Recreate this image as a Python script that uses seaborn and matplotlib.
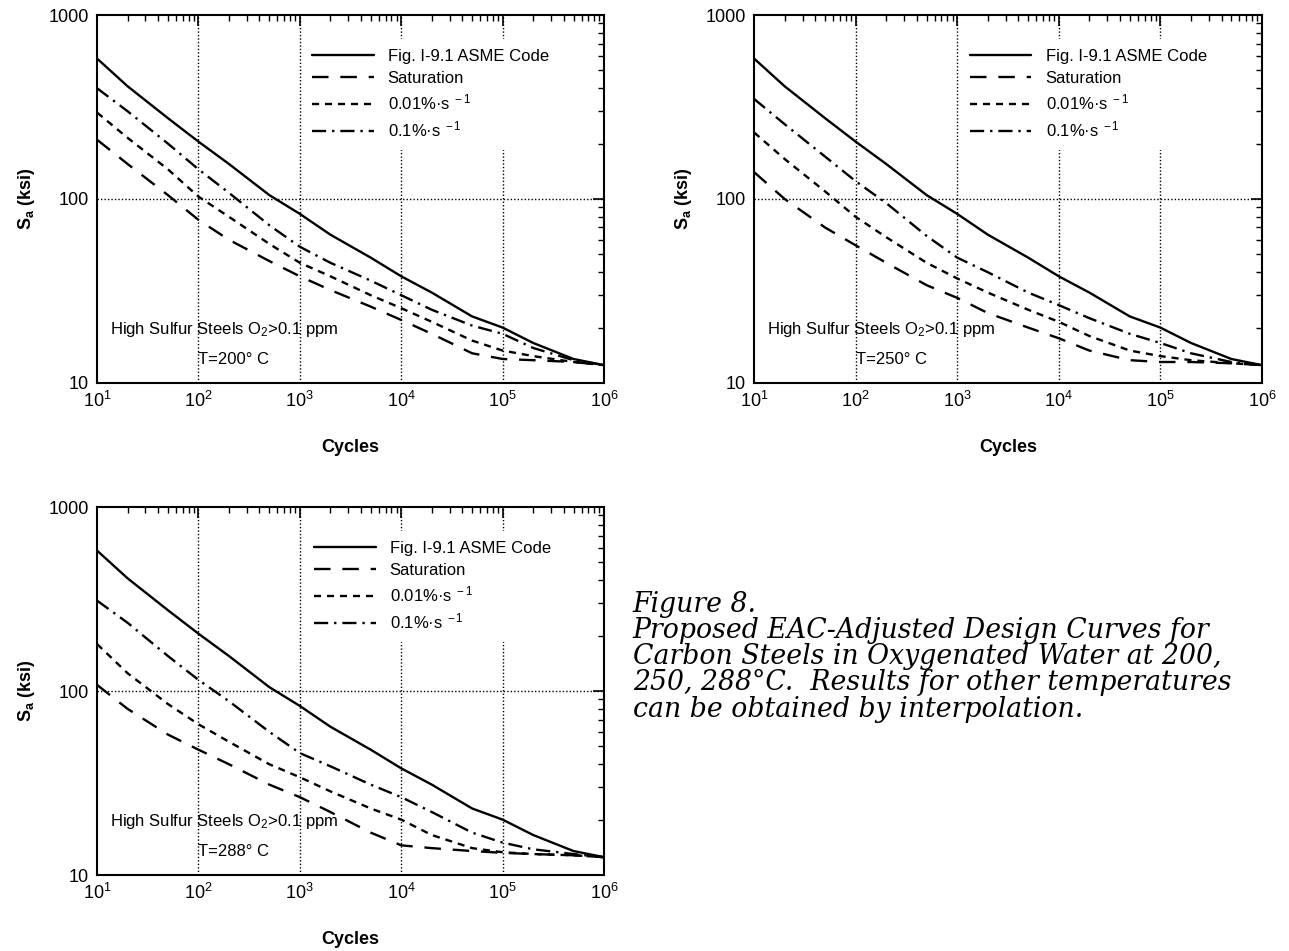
import numpy as np
import pandas as pd
import seaborn as sns
import matplotlib
matplotlib.use("Agg")
import matplotlib.pyplot as plt

# fatigue life points (cycles) and stress amplitude (ksi)
cycles = [10, 20, 50, 100, 200, 500, 1e3, 2e3, 5e3, 1e4, 2e4, 5e4, 1e5, 2e5, 5e5, 1e6]
asme = [580, 410, 275, 205, 155, 105, 83, 64, 48, 38, 31, 23, 20, 16.5, 13.5, 12.5]

fast_200 = [400, 300, 200, 145, 108, 72, 55, 45, 36, 30, 25, 20.5, 18.5, 15.5, 13.3, 12.5]
slow_200 = [295, 215, 145, 103, 80, 57, 45, 38, 30, 25.5, 21.5, 17, 15, 14, 13, 12.5]
sat_200 = [210, 155, 105, 77, 60, 46, 38, 32, 26, 22, 18.5, 14.5, 13.5, 13.3, 13, 12.5]

fast_250 = [350, 255, 170, 125, 95, 63, 48, 40, 31, 26.5, 22.5, 18.5, 16.5, 14.5, 13, 12.5]
slow_250 = [230, 165, 110, 80, 62, 45, 37, 31, 25, 21.5, 18, 15, 14, 13.3, 12.8, 12.5]
sat_250 = [140, 100, 70, 56, 45, 34, 29, 24, 20, 17.5, 15, 13.3, 13, 13, 12.8, 12.5]

fast_288 = [310, 235, 155, 115, 88, 60, 46, 39, 31, 26.5, 22, 17, 15, 13.8, 13, 12.5]
slow_288 = [180, 125, 85, 66, 53, 40, 34, 28.5, 23, 20, 16.5, 14, 13.3, 13, 12.8, 12.5]
sat_288 = [108, 80, 58, 48, 40, 31, 26.5, 22, 17, 14.5, 14, 13.5, 13.2, 13, 12.8, 12.5]

temps = ["200", "250", "288"]
curve_names = ["Fig. I-9.1 ASME Code", "Saturation", "0.01%·s$^{\\ -1}$", "0.1%·s$^{\\ -1}$"]
xtick_labels = ["$10^{1}$", "$10^{2}$", "$10^{3}$", "$10^{4}$", "$10^{5}$", "$10^{6}$"]
ytick_labels = ["10", "100", "1000"]

panel_data = {
    "200": [asme, sat_200, slow_200, fast_200],
    "250": [asme, sat_250, slow_250, fast_250],
    "288": [asme, sat_288, slow_288, fast_288],
}

rows = []
for t in temps:
    for name, vals in zip(curve_names, panel_data[t]):
        for n, s in zip(cycles, vals):
            rows.append({"temp": t, "curve": name, "N": n, "S": s})
df = pd.DataFrame(rows)

sns.set_theme(style="white")
plt.rcParams["font.family"] = ["Liberation Sans", "DejaVu Sans"]
plt.rcParams["mathtext.fontset"] = "custom"
plt.rcParams["mathtext.rm"] = "Liberation Sans"
plt.rcParams["mathtext.it"] = "Liberation Sans:italic"
plt.rcParams["mathtext.bf"] = "Liberation Sans:bold"
plt.rcParams["mathtext.default"] = "regular"
for key in ["text.color", "axes.labelcolor", "xtick.color", "ytick.color", "axes.edgecolor"]:
    plt.rcParams[key] = "black"

styles = {
    curve_names[0]: "-",
    curve_names[1]: (0, (7, 5)),
    curve_names[2]: (0, (3, 2.5)),
    curve_names[3]: (0, (6, 2.5, 1, 2.5)),
}

fig = plt.figure(figsize=(12.89, 9.51), dpi=100)
rects = {
    "200": [0.0753, 0.5973, 0.3933, 0.3869],
    "250": [0.5850, 0.5973, 0.3940, 0.3869],
    "288": [0.0753, 0.0799, 0.3933, 0.3869],
}
legend_x = {"200": 0.404, "250": 0.405, "288": 0.408}

for t in temps:
    ax = fig.add_axes(rects[t])
    sub = df[df["temp"] == t]
    for name in curve_names:
        d = sub[sub["curve"] == name]
        sns.lineplot(data=d, x="N", y="S", ax=ax, color="black", lw=1.7,
                     linestyle=styles[name], label=name, sort=False)
    ax.set(xscale="log", yscale="log")
    ax.set_xlim(10, 1e6)
    ax.set_ylim(10, 1000)
    ax.set_xticks([1e1, 1e2, 1e3, 1e4, 1e5, 1e6])
    ax.set_xticklabels(xtick_labels)
    ax.set_yticks([10, 100, 1000])
    ax.set_yticklabels(ytick_labels)
    for x in [1e2, 1e3, 1e4, 1e5]:
        ax.axvline(x, color="black", lw=1, linestyle=(0, (1, 1.5)), zorder=0.5)
    ax.axhline(100, color="black", lw=1, linestyle=(0, (1, 1.5)), zorder=0.5)
    ax.tick_params(which="both", direction="in", top=True, right=True,
                   colors="black", labelsize=13)
    ax.tick_params(which="major", length=8, width=1.2, pad=6)
    ax.tick_params(which="minor", length=4, width=1)
    for sp in ax.spines.values():
        sp.set_color("black")
        sp.set_linewidth(1.5)
    ax.set_xlabel("Cycles", fontsize=13, fontweight="bold", labelpad=20)
    ax.set_ylabel(r"$\mathbf{S_a}$ (ksi)", fontsize=13, fontweight="bold", labelpad=8)
    leg = ax.legend(loc="upper left", bbox_to_anchor=(legend_x[t], 0.935),
                    frameon=True, fontsize=12, handlelength=3.7,
                    handletextpad=0.85, labelspacing=0.42, borderpad=0.6,
                    borderaxespad=0)
    leg.get_frame().set_facecolor("white")
    leg.get_frame().set_edgecolor("none")
    leg.get_frame().set_alpha(1)
    leg.set_zorder(1)
    for line in ax.get_lines()[:4]:
        line.set_zorder(2)
    ax.text(13.5, 18.5, "High Sulfur Steels O$_2$>0.1 ppm", fontsize=12, zorder=3)
    ax.text(100, 12.7, "T=" + t + "° C", fontsize=12, zorder=3)

caption = [
    "Figure 8.",
    "Proposed EAC-Adjusted Design Curves for",
    "Carbon Steels in Oxygenated Water at 200,",
    "250, 288°C.  Results for other temperatures",
    "can be obtained by interpolation.",
]
for i, line in enumerate(caption):
    fig.text(0.491, 1 - (604 + 26.3 * i) / 951, line, fontsize=19.3,
             family="DejaVu Serif", style="italic", va="center", ha="left",
             color="black")

fig.savefig("out.png", dpi=100, facecolor="white")
